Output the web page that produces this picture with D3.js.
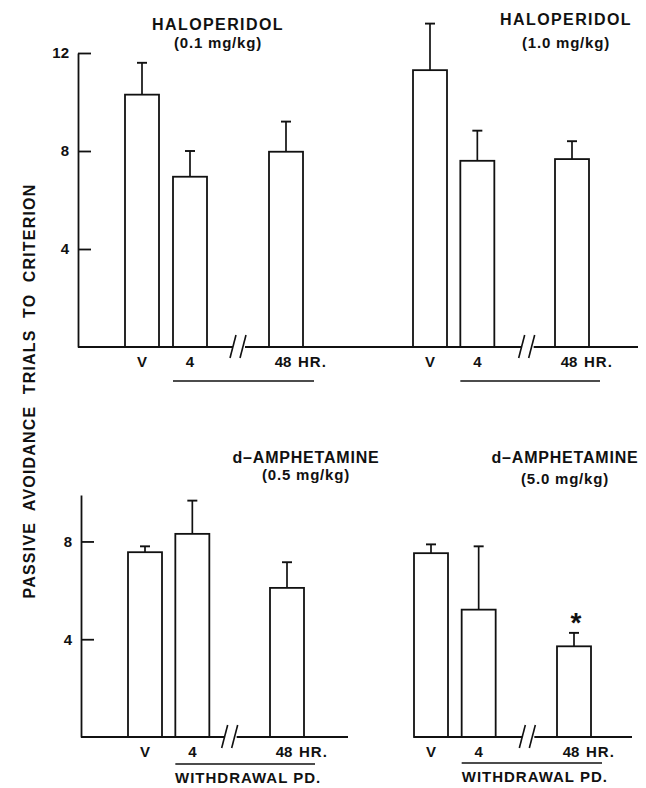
<!DOCTYPE html>
<html>
<head>
<meta charset="utf-8">
<script src="https://cdn.jsdelivr.net/npm/d3@7"></script>
<style>
  body { margin: 0; background: #fff; }
  text { font-family: "Liberation Sans", Arial, sans-serif; font-weight: bold; fill: #111; }
</style>
</head>
<body>
<svg id="chart"></svg>
<script>
// time points after withdrawal (V = vehicle)
var timepoints = ["V", "4", "48"];

// mean trials to criterion and SEM for each panel
var haloLowMean  = [10.3, 6.95, 7.97];
var haloLowSem   = [1.3, 1.05, 1.23];
var haloHighMean = [11.3, 7.6, 7.67];
var haloHighSem  = [1.9, 1.23, 0.73];
var amphLowMean  = [7.56, 8.31, 6.1];
var amphLowSem   = [0.24, 1.36, 1.05];
var amphHighMean = [7.52, 5.21, 3.71];
var amphHighSem  = [0.36, 2.59, 0.55];
var amphHighSig  = ["", "", "*"];

var drugNames = ["HALOPERIDOL", "HALOPERIDOL", "d\u2013AMPHETAMINE", "d\u2013AMPHETAMINE"];
var doses = ["(0.1 mg/kg)", "(1.0 mg/kg)", "(0.5 mg/kg)", "(5.0 mg/kg)"];
var topTicks = [4, 8, 12];
var bottomTicks = [4, 8];
var xLabel = "WITHDRAWAL PD.";
var yLabel = "PASSIVE  AVOIDANCE  TRIALS  TO  CRITERION";

var width = 646, height = 788;
var barW = 34;

var svg = d3.select("#chart")
    .attr("width", width)
    .attr("height", height);

// y scales, one per row
var yTop = d3.scaleLinear().domain([0, 12]).range([347, 53]);
var yBot = d3.scaleLinear().domain([0, 9.9]).range([737, 495]);

// panel layout
var panels = [
    {mean: haloLowMean,  sem: haloLowSem,  sig: null, y: yTop, xr: [142, 286], axisX: 78,  ticks: topTicks,
     title: [218, 24, 43], brk: 0, labY: 362, lineY: 381, withdrawal: false},
    {mean: haloHighMean, sem: haloHighSem, sig: null, y: yTop, xr: [430, 572], axisX: null, ticks: null,
     title: [566, 19, 43], brk: 2, labY: 362, lineY: 381, withdrawal: false},
    {mean: amphLowMean,  sem: amphLowSem,  sig: null, y: yBot, xr: [145, 287], axisX: 81,  ticks: bottomTicks,
     title: [306, 457, 475], brk: -10, labY: 752, lineY: 764, withdrawal: true},
    {mean: amphHighMean, sem: amphHighSem, sig: amphHighSig, y: yBot, xr: [431, 574], axisX: null, ticks: null,
     title: [565, 457, 479], brk: 1, labY: 752, lineY: 763, withdrawal: true}
];

panels.forEach(function(p, i) {
    var g = svg.append("g");
    var x = d3.scalePoint().domain(["V", "4", "//", "48"]).range(p.xr);
    var y = p.y;
    var y0 = y(0);

    var data = timepoints.map(function(t, j) {
        return {t: t, mean: p.mean[j], sem: p.sem[j], sig: p.sig ? p.sig[j] : ""};
    });

    // titles
    g.append("text")
        .attr("x", p.title[0]).attr("y", p.title[1] + 6)
        .attr("text-anchor", "middle")
        .style("font-size", "16px")
        .style("letter-spacing", i < 2 ? "1.4px" : "0.8px")
        .text(drugNames[i]);
    g.append("text")
        .attr("x", p.title[0]).attr("y", p.title[2] + 5)
        .attr("text-anchor", "middle")
        .style("font-size", "15px")
        .style("letter-spacing", "0.8px")
        .text(doses[i]);

    // y axis with inside ticks
    if (p.axisX !== null) {
        var ax = g.append("g")
            .attr("transform", "translate(" + p.axisX + ",0)")
            .call(d3.axisLeft(y).tickValues(p.ticks).tickSizeInner(-13).tickSizeOuter(0).tickPadding(9));
        ax.select(".domain").attr("stroke", "#111").attr("stroke-width", 1.8);
        ax.selectAll(".tick line").attr("stroke", "#111").attr("stroke-width", 1.8);
        ax.selectAll(".tick text")
            .style("font-size", "15px")
            .style("font-family", "'Liberation Sans', Arial, sans-serif")
            .style("font-weight", "bold")
            .attr("fill", "#111");
    }

    // error bars
    var eb = g.selectAll(".err").data(data).enter().append("g");
    eb.append("line")
        .attr("x1", function(d) { return x(d.t); })
        .attr("x2", function(d) { return x(d.t); })
        .attr("y1", function(d) { return y(d.mean); })
        .attr("y2", function(d) { return y(d.mean + d.sem); })
        .attr("stroke", "#111").attr("stroke-width", 1.7);
    eb.append("line")
        .attr("x1", function(d) { return x(d.t) - 5; })
        .attr("x2", function(d) { return x(d.t) + 5; })
        .attr("y1", function(d) { return y(d.mean + d.sem); })
        .attr("y2", function(d) { return y(d.mean + d.sem); })
        .attr("stroke", "#111").attr("stroke-width", 1.9);

    // bars
    g.selectAll(".bar").data(data).enter().append("rect")
        .attr("x", function(d) { return x(d.t) - barW / 2; })
        .attr("y", function(d) { return y(d.mean); })
        .attr("width", barW)
        .attr("height", function(d) { return y0 - y(d.mean); })
        .attr("fill", "#fff")
        .attr("stroke", "#111")
        .attr("stroke-width", 1.8);

    // significance
    g.selectAll(".sig").data(data.filter(function(d) { return d.sig; })).enter().append("text")
        .attr("x", function(d) { return x(d.t) + 2; })
        .attr("y", function(d) { return y(d.mean + d.sem) - 1; })
        .attr("text-anchor", "middle")
        .style("font-size", "28px")
        .text(function(d) { return d.sig; });

    // x labels
    g.selectAll(".xl").data(data).enter().append("text")
        .attr("x", function(d) { return d.t === "48" ? x(d.t) - 3 : x(d.t); })
        .attr("y", p.labY + 5)
        .attr("text-anchor", "middle")
        .style("font-size", "15px")
        .text(function(d) { return d.t; });
    g.append("text")
        .attr("x", x("48") + 12)
        .attr("y", p.labY + 5)
        .style("font-size", "15px")
        .style("letter-spacing", "1px")
        .text("HR.");

    // withdrawal period underline
    var l0 = x("4") - barW / 2, l1 = x("48") + 28;
    g.append("line")
        .attr("x1", l0).attr("x2", l1)
        .attr("y1", p.lineY).attr("y2", p.lineY)
        .attr("stroke", "#111").attr("stroke-width", 1.4);
    if (p.withdrawal) {
        g.append("text")
            .attr("x", (l0 + l1) / 2 + 3)
            .attr("y", p.lineY + 19)
            .attr("text-anchor", "middle")
            .style("font-size", "15px")
            .style("letter-spacing", "1px")
            .text(xLabel);
    }

    // axis break marks
    var bx = x("//") + p.brk;
    p.breakX = bx;
    [-5, 5].forEach(function(o) {
        g.append("line")
            .attr("x1", bx + o - 3).attr("y1", y0 + 11)
            .attr("x2", bx + o + 3).attr("y2", y0 - 12)
            .attr("stroke", "#111").attr("stroke-width", 1.6);
    });
});

// baselines
function seg(x1, x2, yy) { return "M" + x1 + "," + yy + "H" + x2; }
var yt = yTop(0), yb = yBot(0);
var base = seg(78, panels[0].breakX - 5, yt) +
    seg(panels[0].breakX + 7, panels[1].breakX - 5, yt) +
    seg(panels[1].breakX + 7, 638, yt) +
    seg(81, panels[2].breakX - 5, yb) +
    seg(panels[2].breakX + 7, 348, yb) +
    seg(414, panels[3].breakX - 5, yb) +
    seg(panels[3].breakX + 7, 632, yb);
svg.append("path").attr("d", base).attr("stroke", "#111").attr("stroke-width", 1.9).attr("fill", "none");

// y axis title
svg.append("text")
    .attr("transform", "translate(35,391) rotate(-90)")
    .attr("text-anchor", "middle")
    .attr("xml:space", "preserve")
    .style("white-space", "pre")
    .style("font-size", "16px")
    .style("letter-spacing", "1.2px")
    .text(yLabel);
</script>
</body>
</html>
